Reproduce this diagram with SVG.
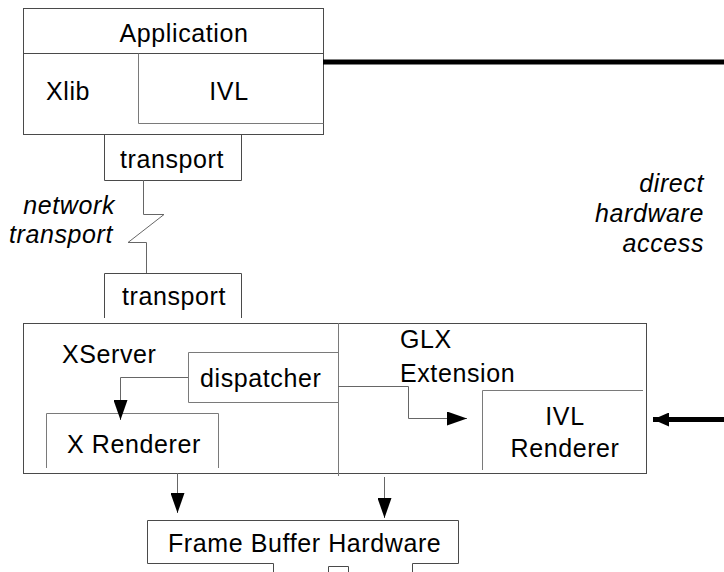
<svg xmlns="http://www.w3.org/2000/svg" width="724" height="572" viewBox="0 0 724 572">
  <style>
    .box { fill: none; stroke: #4a4a4a; stroke-width: 1; }
    .inner { fill: none; stroke: #7a7a7a; stroke-width: 1; }
    .conn { fill: none; stroke: #666; stroke-width: 1; }
    .thick { fill: none; stroke: #000; stroke-width: 5; }
    text { font-family: "Liberation Sans", Arial, sans-serif; font-size: 25px; letter-spacing: 0.6px; fill: #000; }
    .it { font-style: italic; text-anchor: end; }
    .mid { text-anchor: middle; }
  </style>
  <defs>
    <marker id="arr" markerWidth="20" markerHeight="14" refX="20" refY="7" orient="auto" markerUnits="userSpaceOnUse" viewBox="0 0 20 14">
      <path d="M0,0 L20,7 L0,14 Z" fill="#000"/>
    </marker>
    <marker id="arrBig" markerWidth="16" markerHeight="14" refX="16" refY="7" orient="auto" markerUnits="userSpaceOnUse" viewBox="0 0 16 14">
      <path d="M0,0 L16,7 L0,14 Z" fill="#000"/>
    </marker>
  </defs>

  <!-- Application with Xlib and IVL -->
  <g id="application">
    <rect class="box" x="23.5" y="8.5" width="300" height="126"/>
    <line class="box" x1="23" y1="53.5" x2="324" y2="53.5"/>
    <text class="mid" x="184" y="42">Application</text>
  </g>
  <g id="xlib">
    <text x="46" y="100">Xlib</text>
  </g>
  <g id="ivl">
    <polyline class="inner" points="138.5,53.5 138.5,123.5 323.5,123.5"/>
    <text class="mid" x="229" y="100">IVL</text>
  </g>

  <!-- client transport -->
  <g id="transport-client">
    <polyline class="box" points="104.5,134 104.5,180.5 241.5,180.5 241.5,134"/>
    <text class="mid" x="172" y="168">transport</text>
  </g>

  <!-- server transport -->
  <g id="transport-server">
    <polyline class="box" points="104.5,318 104.5,273.5 241.5,273.5 241.5,318"/>
    <text class="mid" x="174" y="305">transport</text>
  </g>

  <!-- X server with GLX extension -->
  <g id="xserver">
    <rect class="box" x="23.5" y="323.5" width="623" height="150"/>
    <line class="inner" x1="338.5" y1="323" x2="338.5" y2="476"/>
    <text x="62" y="363">XServer</text>
  </g>
  <g id="dispatcher">
    <polyline class="inner" points="338.5,352.5 188.5,352.5 188.5,402.5 338.5,402.5"/>
    <text x="200" y="387">dispatcher</text>
  </g>
  <g id="x-renderer">
    <polyline class="inner" points="46.5,468 46.5,413.5 218.5,413.5 218.5,468"/>
    <text x="67" y="453">X Renderer</text>
  </g>
  <g id="glx-extension">
    <text x="400" y="348">GLX</text>
    <text x="400" y="382">Extension</text>
  </g>
  <g id="ivl-renderer">
    <polyline class="inner" points="482.5,470 482.5,390.5 643,390.5"/>
    <text class="mid" x="565" y="425">IVL</text>
    <text class="mid" x="565" y="457">Renderer</text>
  </g>

  <!-- frame buffer -->
  <g id="frame-buffer">
    <polyline class="box" points="273.5,572 273.5,563.5 147.5,563.5 147.5,520.5 458.5,520.5 458.5,563.5 412.5,563.5 412.5,572"/>
    <polyline class="box" points="328.5,572 328.5,566.5 348.5,566.5 348.5,572"/>
    <text x="168" y="552">Frame Buffer Hardware</text>
  </g>

  <!-- labels -->
  <g id="network-label">
    <text class="it" x="115" y="214">network</text>
    <text class="it" x="113" y="243">transport</text>
  </g>
  <g id="direct-label">
    <text class="it" x="704" y="192">direct</text>
    <text class="it" x="704" y="222">hardware</text>
    <text class="it" x="704" y="252">access</text>
  </g>

  <!-- connectors -->
  <g id="connectors">
    <line class="thick" x1="323" y1="62" x2="724" y2="62"/>
    <polyline class="conn" points="143.5,180 143.5,214.5 164,214.5 128,242.5 146.5,242.5 146.5,273"/>
    <polyline class="conn" points="188,377.5 120.5,377.5 120.5,420" marker-end="url(#arr)"/>
    <polyline class="conn" points="338,386.5 408.5,386.5 408.5,418.5 467,418.5" marker-end="url(#arr)"/>
    <line class="thick" x1="724" y1="419.5" x2="653" y2="419.5" marker-end="url(#arrBig)"/>
    <line class="conn" x1="177.5" y1="473" x2="177.5" y2="513" marker-end="url(#arr)"/>
    <line class="conn" x1="384.5" y1="477" x2="384.5" y2="518" marker-end="url(#arr)"/>
  </g>
</svg>
